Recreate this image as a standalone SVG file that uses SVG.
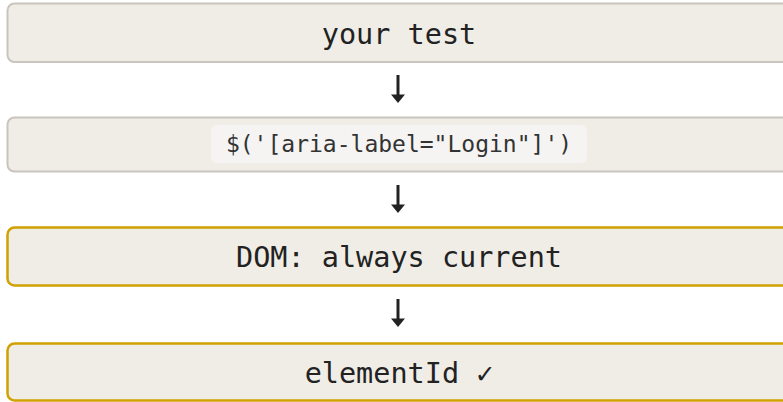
<svg xmlns="http://www.w3.org/2000/svg" width="783" height="402" viewBox="0 0 783 402">
  <defs>
    <style>
      .box { fill: #efede6; stroke: #c9c5bd; stroke-width: 2; }
      .hl { fill: #efede6; stroke: #d0a100; stroke-width: 2.5; }
      .lbl { font-family: "DejaVu Sans Mono", "Liberation Mono", monospace; font-size: 28.5px; fill: #222222; text-anchor: middle; }
      .code { font-family: "DejaVu Sans Mono", "Liberation Mono", monospace; font-size: 23px; fill: #333333; text-anchor: middle; }
      .pill { fill: #f5f4f2; }
      .conn { stroke: #222222; stroke-width: 3; fill: none; }
      .head { fill: #222222; }
    </style>
  </defs>
  <rect width="783" height="402" fill="#ffffff"/>
  <g id="node-test">
    <rect class="box" x="7.5" y="3.5" width="784" height="58.5" rx="7"/>
    <text class="lbl" x="399" y="43.5">your test</text>
  </g>
  <g id="node-selector">
    <rect class="box" x="7.5" y="117.5" width="784" height="54" rx="7"/>
    <rect class="pill" x="211" y="125" width="376" height="38" rx="6"/>
    <text class="code" x="399" y="152">$('[aria-label="Login"]')</text>
  </g>
  <g id="node-dom">
    <rect class="hl" x="7.5" y="227.5" width="784" height="58" rx="7"/>
    <text class="lbl" x="399" y="266.7">DOM: always current</text>
  </g>
  <g id="node-elementid">
    <rect class="hl" x="7.5" y="343.5" width="784" height="57" rx="7"/>
    <text class="lbl" x="399" y="382.7">elementId ✓</text>
  </g>
  <g id="connectors">
    <line class="conn" x1="398" y1="75" x2="398" y2="96"/>
    <polygon class="head" points="391,94.5 405,94.5 398,103"/>
    <line class="conn" x1="398" y1="185" x2="398" y2="206"/>
    <polygon class="head" points="391,204.5 405,204.5 398,213"/>
    <line class="conn" x1="398" y1="299" x2="398" y2="320"/>
    <polygon class="head" points="391,318.5 405,318.5 398,327"/>
  </g>
</svg>
